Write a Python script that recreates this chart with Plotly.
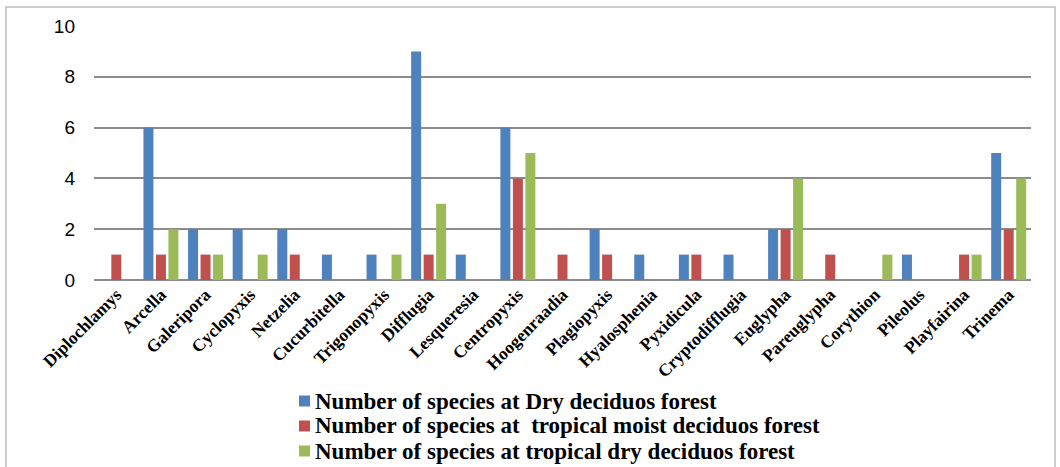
import plotly.graph_objects as go

categories = ["Diplochlamys", "Arcella", "Galeripora", "Cyclopyxis", "Netzelia", "Cucurbitella",
              "Trigonopyxis", "Difflugia", "Lesqueresia", "Centropyxis", "Hoogenraadia", "Plagiopyxis",
              "Hyalosphenia", "Pyxidicula", "Cryptodifflugia", "Euglypha", "Pareuglypha", "Corythion",
              "Pileolus", "Playfairina", "Trinema"]
dry_deciduous = [0, 6, 2, 2, 2, 1, 1, 9, 1, 6, 0, 2, 1, 1, 1, 2, 0, 0, 1, 0, 5]
moist_deciduous = [1, 1, 1, 0, 1, 0, 0, 1, 0, 4, 1, 1, 0, 1, 0, 2, 1, 0, 0, 1, 2]
trop_dry_deciduous = [0, 2, 1, 1, 0, 0, 1, 3, 0, 5, 0, 0, 0, 0, 0, 4, 0, 1, 0, 1, 4]

series_names = ["Number of species at Dry deciduos forest",
                "Number of species at  tropical moist deciduos forest",
                "Number of species at tropical dry deciduos forest"]
colors = ["#4F81BD", "#C0504D", "#9BBB59"]

fig = go.Figure()
for name, vals, c in zip(series_names, [dry_deciduous, moist_deciduous, trop_dry_deciduous], colors):
    fig.add_trace(go.Bar(x=categories, y=vals, name=name, marker=dict(color=c, line=dict(width=0))))

W, H = 1060, 467
ml, mr, mt, mb = 94, 29, 26, 187
pw, ph = W - ml - mr, H - mt - mb

def px_x(x):
    return (x - ml) / pw

def px_y(y):
    return (H - mb - y) / ph

shapes = [dict(type="rect", xref="paper", yref="paper",
               x0=px_x(6), x1=px_x(1055), y0=px_y(470), y1=px_y(7),
               line=dict(color="#BFBFBF", width=1.5), fillcolor="rgba(0,0,0,0)", layer="below")]
annotations = []
legend_y = [401, 426, 451]
for name, c, yc in zip(series_names, colors, legend_y):
    shapes.append(dict(type="rect", xref="paper", yref="paper",
                       x0=px_x(299), x1=px_x(310), y0=px_y(yc + 5.5), y1=px_y(yc - 5.5),
                       line=dict(width=0), fillcolor=c))
    annotations.append(dict(xref="paper", yref="paper", x=px_x(313), y=px_y(yc),
                            xanchor="left", yanchor="middle", showarrow=False,
                            text=name.replace("  ", "&nbsp; "),
                            font=dict(family="Liberation Serif", size=23, color="black", weight="bold")))

fig.update_layout(
    width=W, height=H,
    margin=dict(l=ml, r=mr, t=mt, b=mb, autoexpand=False),
    paper_bgcolor="white", plot_bgcolor="white",
    barmode="group", bargap=0.16, bargroupgap=0.2,
    showlegend=False,
    xaxis=dict(tickangle=-45, automargin=False,
               tickfont=dict(family="Liberation Serif", size=17.5, color="black", weight="bold"),
               showgrid=False, showline=False, ticks="", zeroline=False),
    yaxis=dict(range=[0, 10], dtick=2, automargin=False,
               tickfont=dict(family="Liberation Sans", size=19, color="black"),
               showgrid=True, gridcolor="#8C8C8C", gridwidth=1.5, zeroline=True,
               zerolinecolor="#8C8C8C", zerolinewidth=1.5, showline=False, ticks="",
               ticklabelstandoff=18),
    shapes=shapes,
    annotations=annotations,
)

fig.write_html("out.html")
